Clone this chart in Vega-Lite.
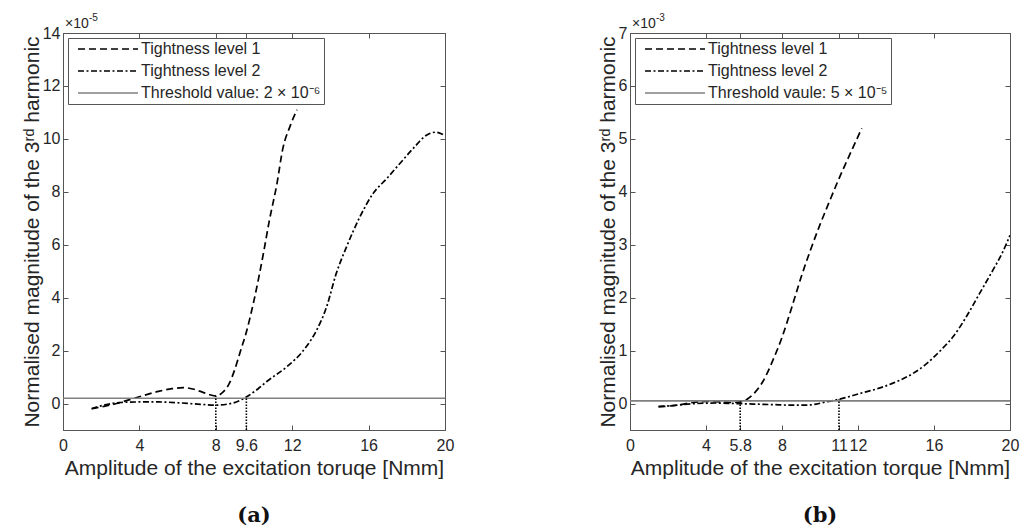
{
  "$schema": "https://vega.github.io/schema/vega-lite/v6.json",
  "background": "white",
  "padding": {"left": 20, "top": 12, "right": 5, "bottom": 0},
  "bounds": "flush",
  "spacing": 185,
  "config": {
    "font": "Liberation Sans",
    "view": {"stroke": "#555555", "strokeWidth": 1},
    "axis": {
      "grid": false,
      "domainColor": "#555555",
      "tickColor": "#555555",
      "tickSize": -5,
      "labelColor": "#262626",
      "labelFont": "Liberation Sans",
      "labelFontSize": 16,
      "titleFont": "Liberation Sans",
      "titleFontSize": 21,
      "titleFontWeight": "normal",
      "titleColor": "#262626",
      "labelFlush": false,
      "labelOverlap": false,
      "format": "~g"
    },
    "axisX": {"labelPadding": 12},
    "axisY": {"labelPadding": 8},
    "legend": {
      "labelFont": "Liberation Sans",
      "labelFontSize": 16,
      "labelColor": "#262626",
      "labelLimit": 400
    },
    "title": {"font": "DejaVu Serif", "fontSize": 21, "fontWeight": "bold", "color": "#111111"}
  },
  "hconcat": [
    {
      "width": 382,
      "height": 397,
      "title": {"text": "(a)", "orient": "bottom", "offset": 27},
      "layer": [
        {
          "data": {"values": [
            {"series": "Tightness level 1", "x": 1.5, "y": -0.2},
            {"series": "Tightness level 1", "x": 2.2, "y": -0.1},
            {"series": "Tightness level 1", "x": 2.8, "y": 0.0},
            {"series": "Tightness level 1", "x": 3.5, "y": 0.15},
            {"series": "Tightness level 1", "x": 4.2, "y": 0.3},
            {"series": "Tightness level 1", "x": 5.0, "y": 0.46},
            {"series": "Tightness level 1", "x": 5.7, "y": 0.56},
            {"series": "Tightness level 1", "x": 6.3, "y": 0.6},
            {"series": "Tightness level 1", "x": 6.8, "y": 0.55},
            {"series": "Tightness level 1", "x": 7.3, "y": 0.43},
            {"series": "Tightness level 1", "x": 7.7, "y": 0.33},
            {"series": "Tightness level 1", "x": 8.0, "y": 0.29},
            {"series": "Tightness level 1", "x": 8.4, "y": 0.45},
            {"series": "Tightness level 1", "x": 8.7, "y": 0.75},
            {"series": "Tightness level 1", "x": 9.0, "y": 1.3},
            {"series": "Tightness level 1", "x": 9.3, "y": 2.0},
            {"series": "Tightness level 1", "x": 9.6, "y": 2.7},
            {"series": "Tightness level 1", "x": 10.0, "y": 3.9},
            {"series": "Tightness level 1", "x": 10.5, "y": 5.7},
            {"series": "Tightness level 1", "x": 10.8, "y": 6.9},
            {"series": "Tightness level 1", "x": 11.2, "y": 8.3},
            {"series": "Tightness level 1", "x": 11.5, "y": 9.6},
            {"series": "Tightness level 1", "x": 11.9, "y": 10.5},
            {"series": "Tightness level 1", "x": 12.25, "y": 11.1},
            {"series": "Tightness level 2", "x": 1.5, "y": -0.19},
            {"series": "Tightness level 2", "x": 2.2, "y": -0.05},
            {"series": "Tightness level 2", "x": 3.0, "y": 0.04},
            {"series": "Tightness level 2", "x": 4.2, "y": 0.06},
            {"series": "Tightness level 2", "x": 5.0, "y": 0.06},
            {"series": "Tightness level 2", "x": 6.0, "y": 0.03},
            {"series": "Tightness level 2", "x": 7.2, "y": -0.03},
            {"series": "Tightness level 2", "x": 8.0, "y": -0.06},
            {"series": "Tightness level 2", "x": 8.9, "y": 0.02},
            {"series": "Tightness level 2", "x": 9.6, "y": 0.25},
            {"series": "Tightness level 2", "x": 10.2, "y": 0.55},
            {"series": "Tightness level 2", "x": 10.7, "y": 0.85},
            {"series": "Tightness level 2", "x": 11.7, "y": 1.38},
            {"series": "Tightness level 2", "x": 12.6, "y": 2.02},
            {"series": "Tightness level 2", "x": 13.3, "y": 2.8},
            {"series": "Tightness level 2", "x": 13.8, "y": 3.65},
            {"series": "Tightness level 2", "x": 14.3, "y": 4.9},
            {"series": "Tightness level 2", "x": 14.85, "y": 5.93},
            {"series": "Tightness level 2", "x": 15.55, "y": 7.06},
            {"series": "Tightness level 2", "x": 16.25, "y": 7.95},
            {"series": "Tightness level 2", "x": 16.95, "y": 8.5},
            {"series": "Tightness level 2", "x": 17.65, "y": 9.08},
            {"series": "Tightness level 2", "x": 18.35, "y": 9.65},
            {"series": "Tightness level 2", "x": 19.05, "y": 10.15},
            {"series": "Tightness level 2", "x": 19.5, "y": 10.25},
            {"series": "Tightness level 2", "x": 19.95, "y": 10.15},
            {"series": "Threshold value: 2 × 10⁻⁶", "x": 0, "y": 0.2},
            {"series": "Threshold value: 2 × 10⁻⁶", "x": 20, "y": 0.2}
          ]},
          "mark": {"type": "line", "interpolate": "monotone", "clip": true},
          "encoding": {
            "x": {"field": "x", "type": "quantitative", "scale": {"domain": [0, 20], "nice": false},
                  "axis": {"orient": "bottom", "values": [0, 4, 8, 9.6, 12, 16, 20], "title": "Amplitude of the excitation toruqe [Nmm]", "titlePadding": 4}},
            "y": {"field": "y", "type": "quantitative", "scale": {"domain": [-1, 14], "nice": false},
                  "axis": {"orient": "left", "values": [0, 2, 4, 6, 8, 10, 12, 14], "title": "Normalised magnitude of the 3ʳᵈ harmonic", "titlePadding": 0}},
            "color": {"field": "series", "type": "nominal",
                      "scale": {"domain": ["Tightness level 1", "Tightness level 2", "Threshold value: 2 × 10⁻⁶"], "range": ["#000000", "#000000", "#808080"]},
                      "legend": {"title": null, "orient": "top-left", "offset": 5, "padding": 3, "strokeColor": "#555555", "fillColor": "white",
                                 "symbolType": "M-6,0H6", "symbolSize": 100, "symbolOffset": 29, "labelOffset": 25, "rowPadding": 6}},
            "strokeDash": {"field": "series", "type": "nominal",
                      "scale": {"domain": ["Tightness level 1", "Tightness level 2", "Threshold value: 2 × 10⁻⁶"], "range": [[7, 4], [6, 2.5, 2, 2.5], [1, 0]]}},
            "strokeWidth": {"field": "series", "type": "nominal",
                      "scale": {"domain": ["Tightness level 1", "Tightness level 2", "Threshold value: 2 × 10⁻⁶"], "range": [1.7, 1.7, 1]}}
          }
        },
        {
          "data": {"values": [
            {"x": 8, "y0": -1, "y1": 0.29},
            {"x": 9.6, "y0": -1, "y1": 0.2}
          ]},
          "mark": {"type": "rule", "color": "#000000", "strokeWidth": 1.6, "strokeDash": [1.5, 1.5]},
          "encoding": {
            "x": {"field": "x", "type": "quantitative", "axis": {"orient": "top", "labels": false, "title": null, "values": [0, 4, 8, 9.6, 12, 16, 20]}},
            "y": {"field": "y0", "type": "quantitative", "axis": {"orient": "right", "labels": false, "title": null, "values": [0, 2, 4, 6, 8, 10, 12, 14]}},
            "y2": {"field": "y1"}
          }
        },
        {
          "data": {"values": [{"label": "×10"}]},
          "mark": {"type": "text", "align": "left", "baseline": "bottom", "dx": 2, "dy": -2, "fontSize": 14, "color": "#262626", "font": "Liberation Sans"},
          "encoding": {
            "x": {"datum": 0, "type": "quantitative", "axis": null},
            "y": {"datum": 14, "type": "quantitative", "axis": null},
            "text": {"field": "label"}
          }
        },
        {
          "data": {"values": [{"label": "-5"}]},
          "mark": {"type": "text", "align": "left", "baseline": "bottom", "dx": 26, "dy": -10, "fontSize": 10, "color": "#262626", "font": "Liberation Sans"},
          "encoding": {
            "x": {"datum": 0, "type": "quantitative", "axis": null},
            "y": {"datum": 14, "type": "quantitative", "axis": null},
            "text": {"field": "label"}
          }
        }
      ],
      "resolve": {"axis": {"x": "independent", "y": "independent"}}
    },
    {
      "width": 380,
      "height": 397,
      "title": {"text": "(b)", "orient": "bottom", "offset": 27},
      "layer": [
        {
          "data": {"values": [
            {"series": "Tightness level 1", "x": 1.5, "y": -0.06},
            {"series": "Tightness level 1", "x": 2.5, "y": -0.03},
            {"series": "Tightness level 1", "x": 3.3, "y": 0.02},
            {"series": "Tightness level 1", "x": 4.0, "y": 0.04},
            {"series": "Tightness level 1", "x": 4.7, "y": 0.03},
            {"series": "Tightness level 1", "x": 5.3, "y": 0.02},
            {"series": "Tightness level 1", "x": 5.8, "y": 0.03},
            {"series": "Tightness level 1", "x": 6.2, "y": 0.09},
            {"series": "Tightness level 1", "x": 6.6, "y": 0.22},
            {"series": "Tightness level 1", "x": 7.0, "y": 0.42},
            {"series": "Tightness level 1", "x": 7.5, "y": 0.8},
            {"series": "Tightness level 1", "x": 8.0, "y": 1.25},
            {"series": "Tightness level 1", "x": 8.5, "y": 1.8},
            {"series": "Tightness level 1", "x": 9.0, "y": 2.38},
            {"series": "Tightness level 1", "x": 9.5, "y": 2.9},
            {"series": "Tightness level 1", "x": 10.0, "y": 3.38},
            {"series": "Tightness level 1", "x": 10.5, "y": 3.82},
            {"series": "Tightness level 1", "x": 11.0, "y": 4.25},
            {"series": "Tightness level 1", "x": 11.5, "y": 4.65},
            {"series": "Tightness level 1", "x": 12.2, "y": 5.2},
            {"series": "Tightness level 2", "x": 1.5, "y": -0.06},
            {"series": "Tightness level 2", "x": 2.5, "y": -0.03},
            {"series": "Tightness level 2", "x": 3.5, "y": 0.0},
            {"series": "Tightness level 2", "x": 4.5, "y": 0.01},
            {"series": "Tightness level 2", "x": 5.5, "y": 0.0},
            {"series": "Tightness level 2", "x": 6.5, "y": -0.01},
            {"series": "Tightness level 2", "x": 7.5, "y": -0.02},
            {"series": "Tightness level 2", "x": 8.5, "y": -0.03},
            {"series": "Tightness level 2", "x": 9.3, "y": -0.03},
            {"series": "Tightness level 2", "x": 9.8, "y": -0.01},
            {"series": "Tightness level 2", "x": 10.3, "y": 0.03},
            {"series": "Tightness level 2", "x": 11.0, "y": 0.08},
            {"series": "Tightness level 2", "x": 12.1, "y": 0.19},
            {"series": "Tightness level 2", "x": 13.2, "y": 0.3},
            {"series": "Tightness level 2", "x": 14.2, "y": 0.44},
            {"series": "Tightness level 2", "x": 14.9, "y": 0.57},
            {"series": "Tightness level 2", "x": 15.5, "y": 0.72},
            {"series": "Tightness level 2", "x": 16.0, "y": 0.88},
            {"series": "Tightness level 2", "x": 16.5, "y": 1.06},
            {"series": "Tightness level 2", "x": 17.0, "y": 1.26},
            {"series": "Tightness level 2", "x": 17.7, "y": 1.64},
            {"series": "Tightness level 2", "x": 18.4, "y": 2.08},
            {"series": "Tightness level 2", "x": 19.1, "y": 2.52},
            {"series": "Tightness level 2", "x": 19.6, "y": 2.85},
            {"series": "Tightness level 2", "x": 20.0, "y": 3.18},
            {"series": "Threshold vaule: 5 × 10⁻⁵", "x": 0, "y": 0.05},
            {"series": "Threshold vaule: 5 × 10⁻⁵", "x": 20, "y": 0.05}
          ]},
          "mark": {"type": "line", "interpolate": "monotone", "clip": true},
          "encoding": {
            "x": {"field": "x", "type": "quantitative", "scale": {"domain": [0, 20], "nice": false},
                  "axis": {"orient": "bottom", "values": [0, 4, 5.8, 8, 11, 12, 16, 20], "title": "Amplitude of the excitation torque [Nmm]", "titlePadding": 4}},
            "y": {"field": "y", "type": "quantitative", "scale": {"domain": [-0.5, 7], "nice": false},
                  "axis": {"orient": "left", "values": [0, 1, 2, 3, 4, 5, 6, 7], "title": "Normalised magnitude of the 3ʳᵈ harmonic", "titlePadding": 0}},
            "color": {"field": "series", "type": "nominal",
                      "scale": {"domain": ["Tightness level 1", "Tightness level 2", "Threshold vaule: 5 × 10⁻⁵"], "range": ["#000000", "#000000", "#808080"]},
                      "legend": {"title": null, "orient": "top-left", "offset": 5, "padding": 3, "strokeColor": "#555555", "fillColor": "white",
                                 "symbolType": "M-6,0H6", "symbolSize": 100, "symbolOffset": 29, "labelOffset": 25, "rowPadding": 6}},
            "strokeDash": {"field": "series", "type": "nominal",
                      "scale": {"domain": ["Tightness level 1", "Tightness level 2", "Threshold vaule: 5 × 10⁻⁵"], "range": [[7, 4], [6, 2.5, 2, 2.5], [1, 0]]}},
            "strokeWidth": {"field": "series", "type": "nominal",
                      "scale": {"domain": ["Tightness level 1", "Tightness level 2", "Threshold vaule: 5 × 10⁻⁵"], "range": [1.7, 1.7, 1]}}
          }
        },
        {
          "data": {"values": [
            {"x": 5.8, "y0": -0.5, "y1": 0.05},
            {"x": 11, "y0": -0.5, "y1": 0.08}
          ]},
          "mark": {"type": "rule", "color": "#000000", "strokeWidth": 1.6, "strokeDash": [1.5, 1.5]},
          "encoding": {
            "x": {"field": "x", "type": "quantitative", "axis": {"orient": "top", "labels": false, "title": null, "values": [0, 4, 5.8, 8, 11, 12, 16, 20]}},
            "y": {"field": "y0", "type": "quantitative", "axis": {"orient": "right", "labels": false, "title": null, "values": [0, 1, 2, 3, 4, 5, 6, 7]}},
            "y2": {"field": "y1"}
          }
        },
        {
          "data": {"values": [{"label": "×10"}]},
          "mark": {"type": "text", "align": "left", "baseline": "bottom", "dx": 2, "dy": -2, "fontSize": 14, "color": "#262626", "font": "Liberation Sans"},
          "encoding": {
            "x": {"datum": 0, "type": "quantitative", "axis": null},
            "y": {"datum": 7, "type": "quantitative", "axis": null},
            "text": {"field": "label"}
          }
        },
        {
          "data": {"values": [{"label": "-3"}]},
          "mark": {"type": "text", "align": "left", "baseline": "bottom", "dx": 26, "dy": -10, "fontSize": 10, "color": "#262626", "font": "Liberation Sans"},
          "encoding": {
            "x": {"datum": 0, "type": "quantitative", "axis": null},
            "y": {"datum": 7, "type": "quantitative", "axis": null},
            "text": {"field": "label"}
          }
        }
      ],
      "resolve": {"axis": {"x": "independent", "y": "independent"}}
    }
  ],
  "resolve": {
    "scale": {"x": "independent", "y": "independent", "color": "independent", "strokeDash": "independent", "strokeWidth": "independent"},
    "legend": {"color": "independent", "strokeDash": "independent", "strokeWidth": "independent"}
  }
}
